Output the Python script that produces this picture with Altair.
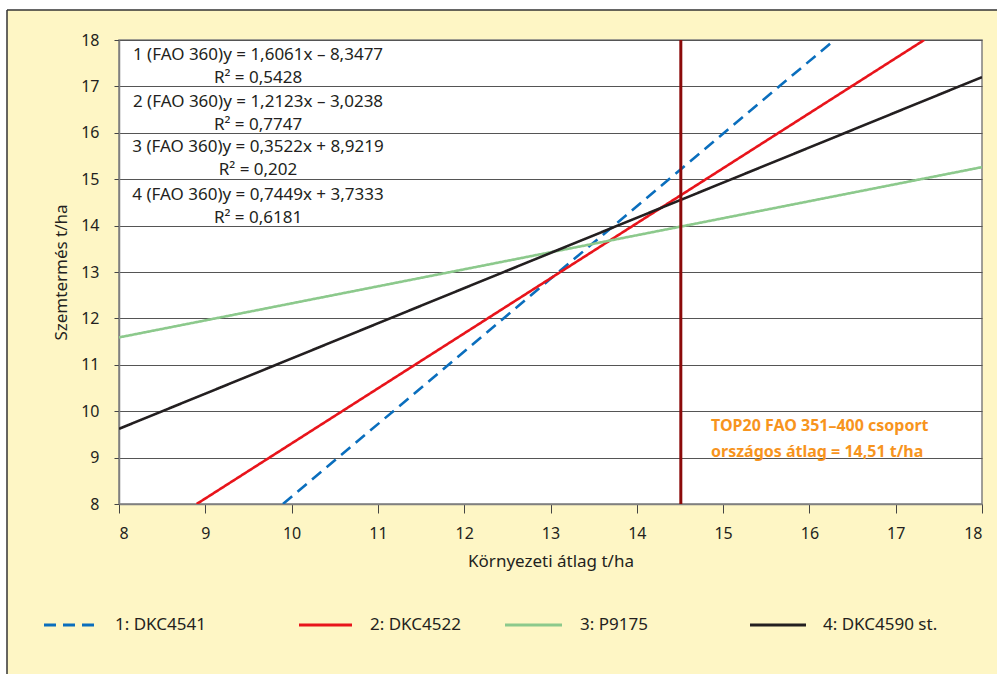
import altair as alt
import pandas as pd

# ---- data ----
series = ["1: DKC4541", "2: DKC4522", "3: P9175", "4: DKC4590 st."]
colors = ["#0A6EBD", "#E8141B", "#8CC98C", "#231F20"]
dashes = [[12, 7], [1, 0], [1, 0], [1, 0]]
x_start = [9.90, 8.90, 8.0, 8.0]
y_start = [8.0, 8.0, 11.59, 9.62]
x_end = [16.29, 17.33, 18.0, 18.0]
y_end = [18.0, 18.0, 15.26, 17.20]
equations = [
    "1 (FAO 360)y = 1,6061x – 8,3477",
    "2 (FAO 360)y = 1,2123x – 3,0238",
    "3 (FAO 360)y = 0,3522x + 8,9219",
    "4 (FAO 360)y = 0,7449x + 3,7333",
]
r2_labels = ["R² = 0,5428", "R² = 0,7747", "R² = 0,202", "R² = 0,6181"]
national_avg = 14.51
ticks = list(range(8, 19))
annot_lines = ["TOP20 FAO 351–400 csoport", "országos átlag = 14,51 t/ha"]

FONT = "Noto Sans"
W, H = 863, 464
BG = "#FEF6C5"
TXT = "#231F20"

rows = []
for s, x0, y0, x1, y1 in zip(series, x_start, y_start, x_end, y_end):
    rows.append({"series": s, "x": x0, "y": y0})
    rows.append({"series": s, "x": x1, "y": y1})
df = pd.DataFrame(rows)
one = pd.DataFrame({"a": [0]})

xscale = alt.Scale(domain=[8, 18], nice=False, zero=False)
yscale = alt.Scale(domain=[8, 18], nice=False, zero=False)

lines = alt.Chart(df).mark_line(strokeWidth=2.6, clip=True).encode(
    x=alt.X("x:Q", scale=xscale,
            axis=alt.Axis(values=ticks, format="d", title="Környezeti átlag t/ha",
                          grid=False, tickSize=9, tickColor="#444",
                          domainColor="#808080", domainWidth=1.5, labelFontSize=16,
                          labelPadding=12, labelColor=TXT, titleFontSize=17,
                          titleFontWeight="normal", titleColor=TXT,
                          titlePadding=12, labelFont=FONT, titleFont=FONT)),
    y=alt.Y("y:Q", scale=yscale,
            axis=alt.Axis(values=ticks, format="d", title="Szemtermés t/ha", grid=True,
                          gridColor="#555", gridWidth=1.2, tickSize=5,
                          tickColor="#444", domainColor="#808080", domainWidth=1.5,
                          labelFontSize=16, labelPadding=15, labelColor=TXT,
                          titleFontSize=17, titleFontWeight="normal",
                          titleColor=TXT, titlePadding=10,
                          labelFont=FONT, titleFont=FONT)),
    color=alt.Color("series:N", scale=alt.Scale(domain=series, range=colors), legend=None),
    strokeDash=alt.StrokeDash("series:N", scale=alt.Scale(domain=series, range=dashes), legend=None),
    detail="series:N",
)

vline = alt.Chart(pd.DataFrame({"v": [national_avg]})).mark_rule(
    color="#8B0A0A", strokeWidth=3
).encode(x=alt.X("v:Q", scale=xscale))

layers = [lines, vline]

# equation texts
eq_y = [15, 62, 107, 155]
r2_y = [38, 85, 130, 178]
for eq, r2, ey, ry in zip(equations, r2_labels, eq_y, r2_y):
    layers.append(alt.Chart(one).mark_text(font=FONT, fontSize=17, color=TXT,
                                           align="center", baseline="middle").encode(
        x=alt.value(139), y=alt.value(ey), text=alt.value(eq)))
    layers.append(alt.Chart(one).mark_text(font=FONT, fontSize=17, color=TXT,
                                           align="center", baseline="middle").encode(
        x=alt.value(139), y=alt.value(ry), text=alt.value(r2)))

# orange annotation
for txt, ty in zip(annot_lines, [386, 412]):
    layers.append(alt.Chart(one).mark_text(font=FONT, fontSize=16, fontWeight="bold",
                                           color="#F7941D", align="left",
                                           baseline="middle").encode(
        x=alt.value(592), y=alt.value(ty), text=alt.value(txt)))

# white strips and outer frame (outside plot area)
layers.append(alt.Chart(one).mark_rect(fill="white", clip=False).encode(
    x=alt.value(-130), x2=alt.value(-112), y=alt.value(-50), y2=alt.value(700)))
layers.append(alt.Chart(one).mark_rect(fill="white", clip=False).encode(
    x=alt.value(-130), x2=alt.value(900), y=alt.value(-50), y2=alt.value(-30)))
layers.append(alt.Chart(one).mark_rule(color="#333", strokeWidth=1.5, clip=False).encode(
    x=alt.value(-112), x2=alt.value(900), y=alt.value(-30)))
layers.append(alt.Chart(one).mark_rule(color="#333", strokeWidth=1.5, clip=False).encode(
    x=alt.value(-112), y=alt.value(-30), y2=alt.value(700)))

# manual legend
sym_x = [(-75, -22), (180, 233), (386, 443), (631, 687)]
lab_x = [-4, 251, 461, 704]
LEG_Y = 585
for s, c, d, (sx0, sx1), lx in zip(series, colors, dashes, sym_x, lab_x):
    layers.append(alt.Chart(one).mark_rule(color=c, strokeWidth=3, strokeDash=d,
                                           clip=False).encode(
        x=alt.value(sx0), x2=alt.value(sx1), y=alt.value(LEG_Y)))
    layers.append(alt.Chart(one).mark_text(font=FONT, fontSize=17, color=TXT,
                                           align="left", baseline="middle").encode(
        x=alt.value(lx), y=alt.value(LEG_Y), text=alt.value(s)))

chart = alt.layer(*layers).properties(
    width=W, height=H,
    autosize=alt.AutoSizeParams(type="none"),
    padding={"left": 119, "top": 40, "right": 15, "bottom": 170},
    background=BG,
).configure_view(fill="white", stroke="#808080", strokeWidth=1.5)

chart.save("out.html", embed_options={"renderer": "svg", "actions": False})
